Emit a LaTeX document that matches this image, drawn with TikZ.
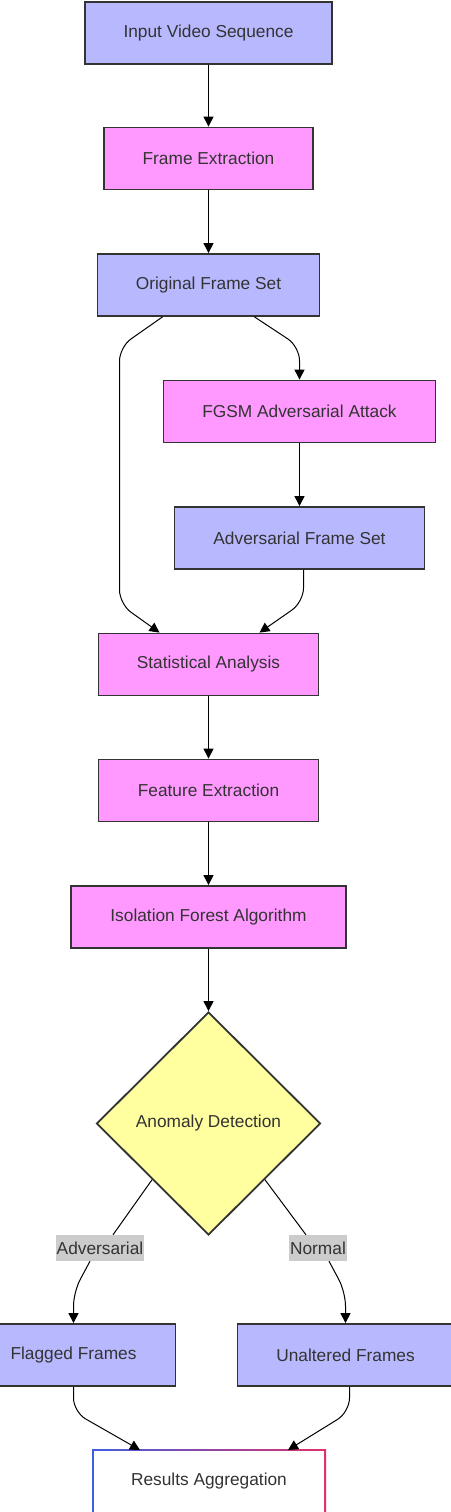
\documentclass[tikz,border=0pt]{standalone}
\usepackage{fontspec}
\setmainfont{Liberation Sans}
\usetikzlibrary{arrows.meta,calc,shapes.geometric}
\definecolor{lav}{HTML}{B8B8FF}
\definecolor{pinkfill}{HTML}{FF99FF}
\definecolor{yel}{HTML}{FFFFA0}
\definecolor{txt}{HTML}{333333}
\definecolor{edgec}{HTML}{333333}
\definecolor{lblbg}{HTML}{CCCCCC}
\definecolor{gblue}{HTML}{3F5FE0}
\definecolor{gred}{HTML}{E0306A}
\begin{document}
\begin{tikzpicture}[x=1pt,y=-1pt,
  boxbase/.style={draw=edgec, line width=1.8pt, text=txt, font=\fontsize{17.3}{20}\selectfont, inner sep=0pt, minimum height=62pt},
  bluebox/.style={boxbase, fill=lav},
  pinkbox/.style={boxbase, fill=pinkfill},
  lbl/.style={fill=lblbg, text=txt, font=\fontsize{17.3}{20}\selectfont, inner xsep=1pt, inner ysep=0pt, minimum height=26pt},
  conn/.style={line width=1pt, black},
  arr/.style={conn, -{Triangle[length=10pt,width=10pt]}},
  curvy/.style={rounded corners=14pt}]
\useasboundingbox (0,0) rectangle (450,1512);

\node[bluebox, minimum width=247pt] (in) at (208.5,33) {Input Video Sequence};
\node[pinkbox, minimum width=209pt] (fe) at (208.5,158.5) {Frame Extraction};
\node[bluebox, minimum width=222pt] (orig) at (208.5,285) {Original Frame Set};
\node[pinkbox, minimum width=272pt] (fgsm) at (299.5,411.5) {FGSM Adversarial Attack};
\node[bluebox, minimum width=250pt] (adv) at (299.5,538) {Adversarial Frame Set};
\node[pinkbox, minimum width=220pt] (stat) at (208.5,664.5) {Statistical Analysis};
\node[pinkbox, minimum width=220pt] (feat) at (208.5,790.5) {Feature Extraction};
\node[pinkbox, minimum width=275pt] (iso) at (208.5,917) {Isolation Forest Algorithm};
\node[diamond, draw=edgec, line width=1.8pt, fill=yel, text=txt, font=\fontsize{17.3}{20}\selectfont, inner sep=0pt, minimum width=224pt, minimum height=223pt] (det) at (208.5,1123.5) {Anomaly Detection};
\node[bluebox, minimum width=204pt] (flag) at (73.5,1355) {Flagged Frames};
\node[bluebox, minimum width=216pt] (unalt) at (345.5,1355) {Unaltered Frames};

% results box with gradient border
\shade[left color=gblue, right color=gred] (92,1449.5) rectangle (326,1515);
\fill[white] (93.6,1451.1) rectangle (324.4,1515);
\node[text=txt, font=\fontsize{17.3}{20}\selectfont, minimum width=234pt, minimum height=63pt, inner sep=0pt] (res) at (209,1481.5) {Results Aggregation};

\node[lbl] (la) at (100,1248) {Adversarial};
\node[lbl] (lb) at (318,1248) {Normal};

% connectors
\draw[arr] (in) -- (fe);
\draw[arr] (fe) -- (orig);
\draw[arr, curvy] ($(orig.south)+(46,0)$) -- ($(fgsm.north)+(0,-33)$) -- (fgsm.north);
\draw[arr, curvy] ($(orig.south)+(-46,0)$) -- (119.5,347) -- (119.5,604) -- ($(stat.north)+(-49,0)$);
\draw[arr] (fgsm) -- (adv);
\draw[arr, curvy] ($(adv.south)+(4,0)$) -- (303.5,602) -- ($(stat.north)+(51,0)$);
\draw[arr] (stat) -- (feat);
\draw[arr] (feat) -- (iso);
\draw[arr] (iso) -- (det);
\draw[conn] (det.south west) -- ($(la.north)+(13,0)$);
\draw[arr, curvy] ($(la.south)+(-10,0)$) -- (73.5,1292) -- (flag.north);
\draw[conn] (det.south east) -- ($(lb.north)+(-12,0)$);
\draw[arr, curvy] ($(lb.south)+(11,0)$) -- (345.5,1292) -- (unalt.north);
\draw[arr, curvy] (flag.south) -- (73.5,1412) -- (140,1450);
\draw[arr, curvy] ($(unalt.south)+(4,0)$) -- (349.5,1412) -- (288,1450);
\end{tikzpicture}
\end{document}
